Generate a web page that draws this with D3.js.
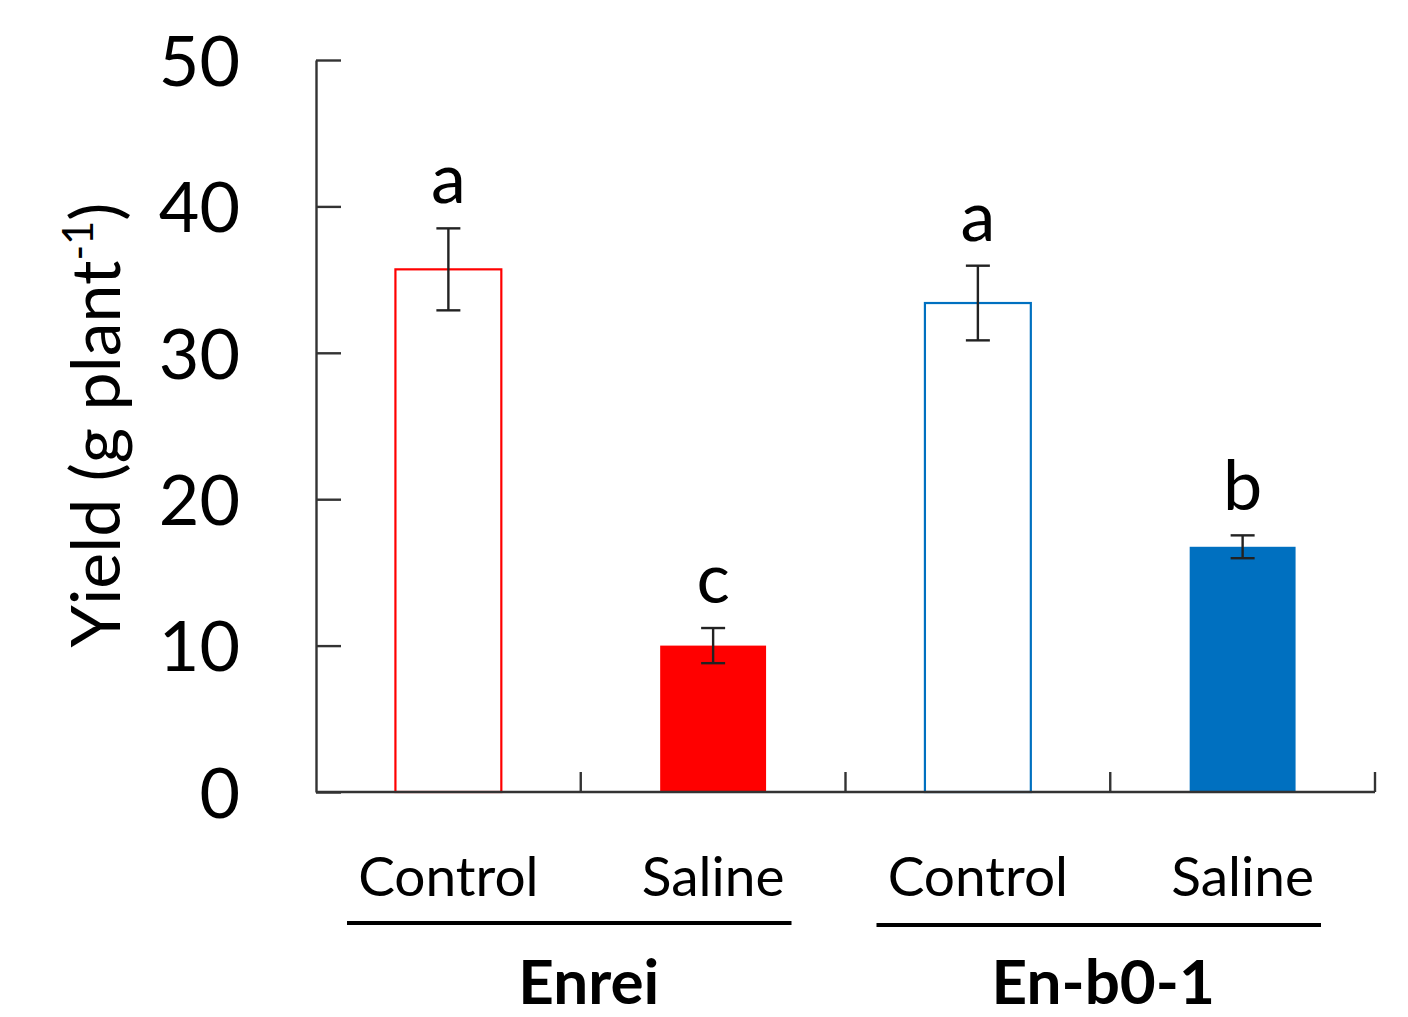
<!DOCTYPE html>
<html>
<head>
<meta charset="utf-8">
<script src="https://cdn.jsdelivr.net/npm/d3@7"></script>
<style>
  body { margin: 0; background: #fff; }
  svg { display: block; font-family: Lato, "Open Sans", sans-serif; }
</style>
</head>
<body>
<div id="container"></div>
<script>
// Datos
const cultivars = ["Enrei", "En-b0-1"];
const treatments = ["Control", "Saline"];
const yieldMean = [35.7, 10.0, 33.4, 16.75];
const yieldErr = [2.8, 1.2, 2.55, 0.78];
const letters = ["a", "c", "a", "b"];
const yTicks = [0, 10, 20, 30, 40, 50];

const width = 1408;
const height = 1017;
const margin = {left: 316, right: 33, top: 60, bottom: 225};

const groups = cultivars.flatMap((c, i) => treatments.map((t, j) => ({
  cultivar: c,
  treatment: t,
  key: `${c}-${t}`,
  mean: yieldMean[i * 2 + j],
  err: yieldErr[i * 2 + j],
  letter: letters[i * 2 + j],
  color: i === 0 ? "#ff0000" : "#0070c0",
  filled: t === "Saline"
})));

const x = d3.scaleBand()
  .domain(groups.map(d => d.key))
  .range([margin.left, width - margin.right])
  .paddingInner(0)
  .paddingOuter(0);

const y = d3.scaleLinear()
  .domain([0, 50])
  .range([height - margin.bottom, margin.top]);

const barW = x.bandwidth() * 0.4;

const svg = d3.create("svg")
  .attr("width", width)
  .attr("height", height)
  .attr("viewBox", [0, 0, width, height]);

// Barras
svg.append("g")
  .selectAll("rect")
  .data(groups)
  .join("rect")
    .attr("x", d => x(d.key) + (x.bandwidth() - barW) / 2)
    .attr("y", d => y(d.mean))
    .attr("width", barW)
    .attr("height", d => y(0) - y(d.mean))
    .attr("fill", d => d.filled ? d.color : "#fff")
    .attr("stroke", d => d.color)
    .attr("stroke-width", d => d.filled ? 0 : 2.2);

// Barras de error
const err = svg.append("g")
    .attr("stroke", "#222")
    .attr("stroke-width", 2.4)
  .selectAll("g")
  .data(groups)
  .join("g")
    .attr("transform", d => `translate(${x(d.key) + x.bandwidth() / 2},0)`);

err.append("line")
    .attr("y1", d => y(d.mean + d.err))
    .attr("y2", d => y(d.mean - d.err));
err.append("line")
    .attr("x1", -12).attr("x2", 12)
    .attr("y1", d => y(d.mean + d.err))
    .attr("y2", d => y(d.mean + d.err));
err.append("line")
    .attr("x1", -12).attr("x2", 12)
    .attr("y1", d => y(d.mean - d.err))
    .attr("y2", d => y(d.mean - d.err));

// Letras de significancia
svg.append("g")
    .attr("text-anchor", "middle")
    .attr("font-size", 70)
  .selectAll("text")
  .data(groups)
  .join("text")
    .attr("x", d => x(d.key) + x.bandwidth() / 2)
    .attr("y", d => y(d.mean + d.err) - 25)
    .text(d => d.letter);

// Eje Y
const yAxis = svg.append("g")
    .attr("transform", `translate(${margin.left},0)`)
    .call(d3.axisLeft(y).tickValues(yTicks).tickSizeInner(-25).tickSizeOuter(0).tickPadding(76));
yAxis.select(".domain").attr("stroke", "#333").attr("stroke-width", 2.4);
yAxis.selectAll(".tick line").attr("stroke", "#333").attr("stroke-width", 2.4);
yAxis.selectAll(".tick text")
    .attr("font-size", 70)
    .attr("font-family", "Lato, sans-serif")
    .attr("fill", "#000")
    .attr("dy", "0.36em");

// Eje X con marcas en los límites de cada banda
const xBounds = groups.map(d => x(d.key) + x.bandwidth());
svg.append("line")
    .attr("x1", margin.left).attr("x2", width - margin.right)
    .attr("y1", y(0)).attr("y2", y(0))
    .attr("stroke", "#333").attr("stroke-width", 2.4);
svg.append("g")
    .attr("stroke", "#333").attr("stroke-width", 2.4)
  .selectAll("line")
  .data(xBounds)
  .join("line")
    .attr("x1", d => d).attr("x2", d => d)
    .attr("y1", y(0)).attr("y2", y(0) - 20);

// Etiquetas de tratamiento
svg.append("g")
    .attr("text-anchor", "middle")
    .attr("font-size", 55)
  .selectAll("text")
  .data(groups)
  .join("text")
    .attr("x", d => x(d.key) + x.bandwidth() / 2)
    .attr("y", y(0) + 104)
    .text(d => d.treatment);

// Líneas y nombres de cultivar
const cult = svg.append("g")
  .selectAll("g")
  .data(cultivars)
  .join("g");

cult.append("line")
    .attr("x1", d => x(`${d}-Control`) + 31)
    .attr("x2", d => x(`${d}-Saline`) + x.bandwidth() - 54)
    .attr("y1", (d, i) => y(0) + 131 + i * 2)
    .attr("y2", (d, i) => y(0) + 131 + i * 2)
    .attr("stroke", "#000")
    .attr("stroke-width", 4);

cult.append("text")
    .attr("x", (d, i) => x(`${d}-Control`) + x.bandwidth() + (i === 0 ? 8 : -7))
    .attr("y", y(0) + 212)
    .attr("text-anchor", "middle")
    .attr("font-size", 62)
    .attr("font-weight", "bold")
    .text(d => d);

// Título del eje Y
const yLabel = svg.append("text")
    .attr("transform", `translate(120,${(y(0) + y(50)) / 2 - 1}) rotate(-90)`)
    .attr("text-anchor", "middle")
    .attr("font-size", 68);
yLabel.append("tspan").text("Yield (g plant");
yLabel.append("tspan").attr("font-size", 42).attr("dy", -27).text("-1");
yLabel.append("tspan").attr("dy", 27).text(")");

container.append(svg.node());
</script>
</body>
</html>
